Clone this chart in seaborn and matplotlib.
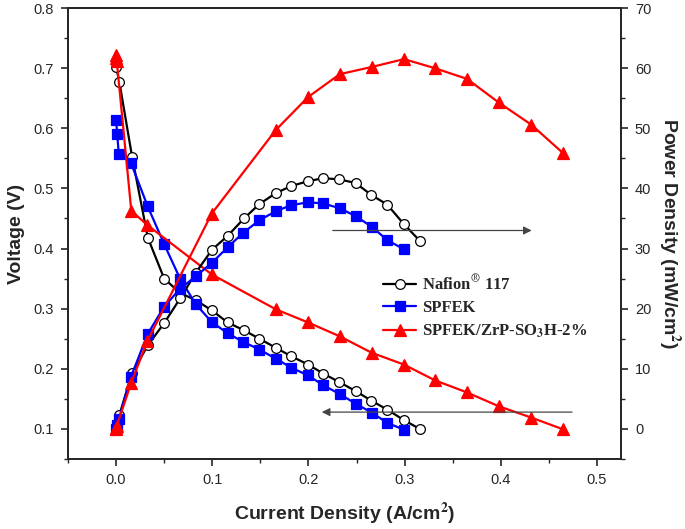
import matplotlib
matplotlib.use('Agg')
import matplotlib.pyplot as plt
from matplotlib.ticker import MultipleLocator
import seaborn as sns

# Nafion 117
naf_i = [0, 0.0034, 0.0166, 0.033, 0.05, 0.0666, 0.083, 0.0997, 0.116, 0.133, 0.149,
         0.166, 0.182, 0.1997, 0.2155, 0.232, 0.249, 0.2655, 0.282, 0.299, 0.3157]
naf_v = [0.702, 0.677, 0.553, 0.418, 0.350, 0.326, 0.314, 0.297, 0.277, 0.264, 0.250,
         0.235, 0.221, 0.207, 0.192, 0.178, 0.163, 0.147, 0.132, 0.115, 0.100]
naf_p = [0, 2.3, 9.3, 13.9, 17.6, 21.7, 26.0, 29.8, 32.1, 35.0, 37.4,
         39.2, 40.4, 41.2, 41.7, 41.5, 40.9, 38.9, 37.3, 34.1, 31.3]

# SPFEK
spf_i = [0, 0.0012, 0.0028, 0.0153, 0.0329, 0.0498, 0.0665, 0.083, 0.0994, 0.116, 0.132,
         0.149, 0.166, 0.182, 0.1997, 0.215, 0.2326, 0.249, 0.266, 0.282, 0.299]
spf_v = [0.614, 0.590, 0.557, 0.543, 0.470, 0.408, 0.350, 0.307, 0.278, 0.259, 0.245,
         0.232, 0.217, 0.202, 0.189, 0.173, 0.158, 0.142, 0.127, 0.110, 0.099]
spf_p = [0, 0.7, 1.6, 8.6, 15.8, 20.3, 23.3, 25.4, 27.6, 30.2, 32.6,
         34.7, 36.2, 37.2, 37.7, 37.5, 36.7, 35.4, 33.6, 31.4, 29.9]

# SPFEK/ZrP-SO3H-2%
zrp_i = [0, 0.0003, 0.0007, 0.0158, 0.0325, 0.0994, 0.166, 0.1997, 0.2326, 0.266, 0.2994,
         0.3313, 0.365, 0.3977, 0.4317, 0.4645]
zrp_v = [0.722, 0.717, 0.712, 0.463, 0.439, 0.357, 0.299, 0.277, 0.254, 0.2265, 0.207,
         0.181, 0.1606, 0.1378, 0.1189, 0.0995]
zrp_p = [0, 0.2, 0.5, 7.7, 14.6, 35.8, 49.7, 55.2, 59.0, 60.2, 61.5,
         60.0, 58.2, 54.3, 50.6, 45.9]

sns.set_style('ticks')
plt.rcParams['font.family'] = ['Liberation Sans', 'DejaVu Sans']
plt.rcParams['mathtext.fontset'] = 'stix'
plt.rcParams['axes.linewidth'] = 1.3
plt.rcParams['xtick.major.width'] = 1.2
plt.rcParams['ytick.major.width'] = 1.2
plt.rcParams['xtick.minor.width'] = 1.0
plt.rcParams['ytick.minor.width'] = 1.0

fig = plt.figure(figsize=(6.85, 5.29), dpi=100)
ax = fig.add_axes([68 / 685, 1 - 459 / 529, (621 - 68) / 685, (459 - 8) / 529])
ax2 = ax.twinx()

series = [
    ('Nafion$^{\\circledR}$ 117', naf_i, naf_v, naf_p, 'black', 'o', 'white', 7),
    ('SPFEK', spf_i, spf_v, spf_p, '#0000ff', 's', '#0000ff', 6.5),
    ('SPFEK/ZrP-SO$_\\mathbf{3}$H-2%', zrp_i, zrp_v, zrp_p, '#ff0000', '^', '#ff0000', 8),
]
for name, cur, volt, pw, col, mk, fc, ms in series:
    sns.lineplot(x=cur, y=volt, ax=ax, color=col, marker=mk, markersize=ms,
                 markerfacecolor=fc, markeredgecolor=col, markeredgewidth=0.9,
                 linewidth=1.6, sort=False, estimator=None, label=name)
    sns.lineplot(x=cur, y=pw, ax=ax2, color=col, marker=mk, markersize=ms,
                 markerfacecolor=fc, markeredgecolor=col, markeredgewidth=0.9,
                 linewidth=1.6, sort=False, estimator=None, legend=False)

ax.set_xlim(-0.05, 0.525)
ax.set_ylim(0.05, 0.8)
ax2.set_ylim(-5, 70)
ax.xaxis.set_major_locator(MultipleLocator(0.1))
ax.xaxis.set_minor_locator(MultipleLocator(0.05))
ax.yaxis.set_major_locator(MultipleLocator(0.1))
ax.yaxis.set_minor_locator(MultipleLocator(0.05))
ax2.yaxis.set_major_locator(MultipleLocator(10))
ax2.yaxis.set_minor_locator(MultipleLocator(5))
ax.set_xticks([0, 0.1, 0.2, 0.3, 0.4, 0.5])
ax.set_xticklabels(['0.0', '0.1', '0.2', '0.3', '0.4', '0.5'])
for a in (ax, ax2):
    a.tick_params(which='major', length=5, labelsize=10.5, direction='out', pad=5)
    a.tick_params(which='minor', length=3, direction='out')

ax.set_xlabel('Current Density (A/cm$^\\mathbf{2}$)', fontsize=14, fontweight='bold',
              labelpad=10)
ax.set_ylabel('Voltage (V)', fontsize=14, fontweight='bold', labelpad=6)
ax2.set_ylabel('Power Density (mW/cm$^\\mathbf{2}$)', fontsize=14, fontweight='bold',
               rotation=270, labelpad=22)

# direction arrows
ax2.annotate('', xy=(0.435, 33), xytext=(0.2224, 33),
             arrowprops=dict(arrowstyle='-|>', color='#444444', lw=0.9, mutation_scale=12))
ax2.annotate('', xy=(0.211, 2.8), xytext=(0.477, 2.8),
             arrowprops=dict(arrowstyle='-|>', color='#444444', lw=0.9, mutation_scale=12))

leg = ax.legend(loc='upper left', bbox_to_anchor=(383 / 685, 1 - 274 / 529),
                bbox_transform=fig.transFigure, frameon=False, borderpad=0,
                borderaxespad=0, handlelength=2.0, handletextpad=0.35, labelspacing=0.4,
                prop={'family': 'Liberation Serif', 'weight': 'bold', 'size': 12})

fig.savefig('out.png', dpi=100)
